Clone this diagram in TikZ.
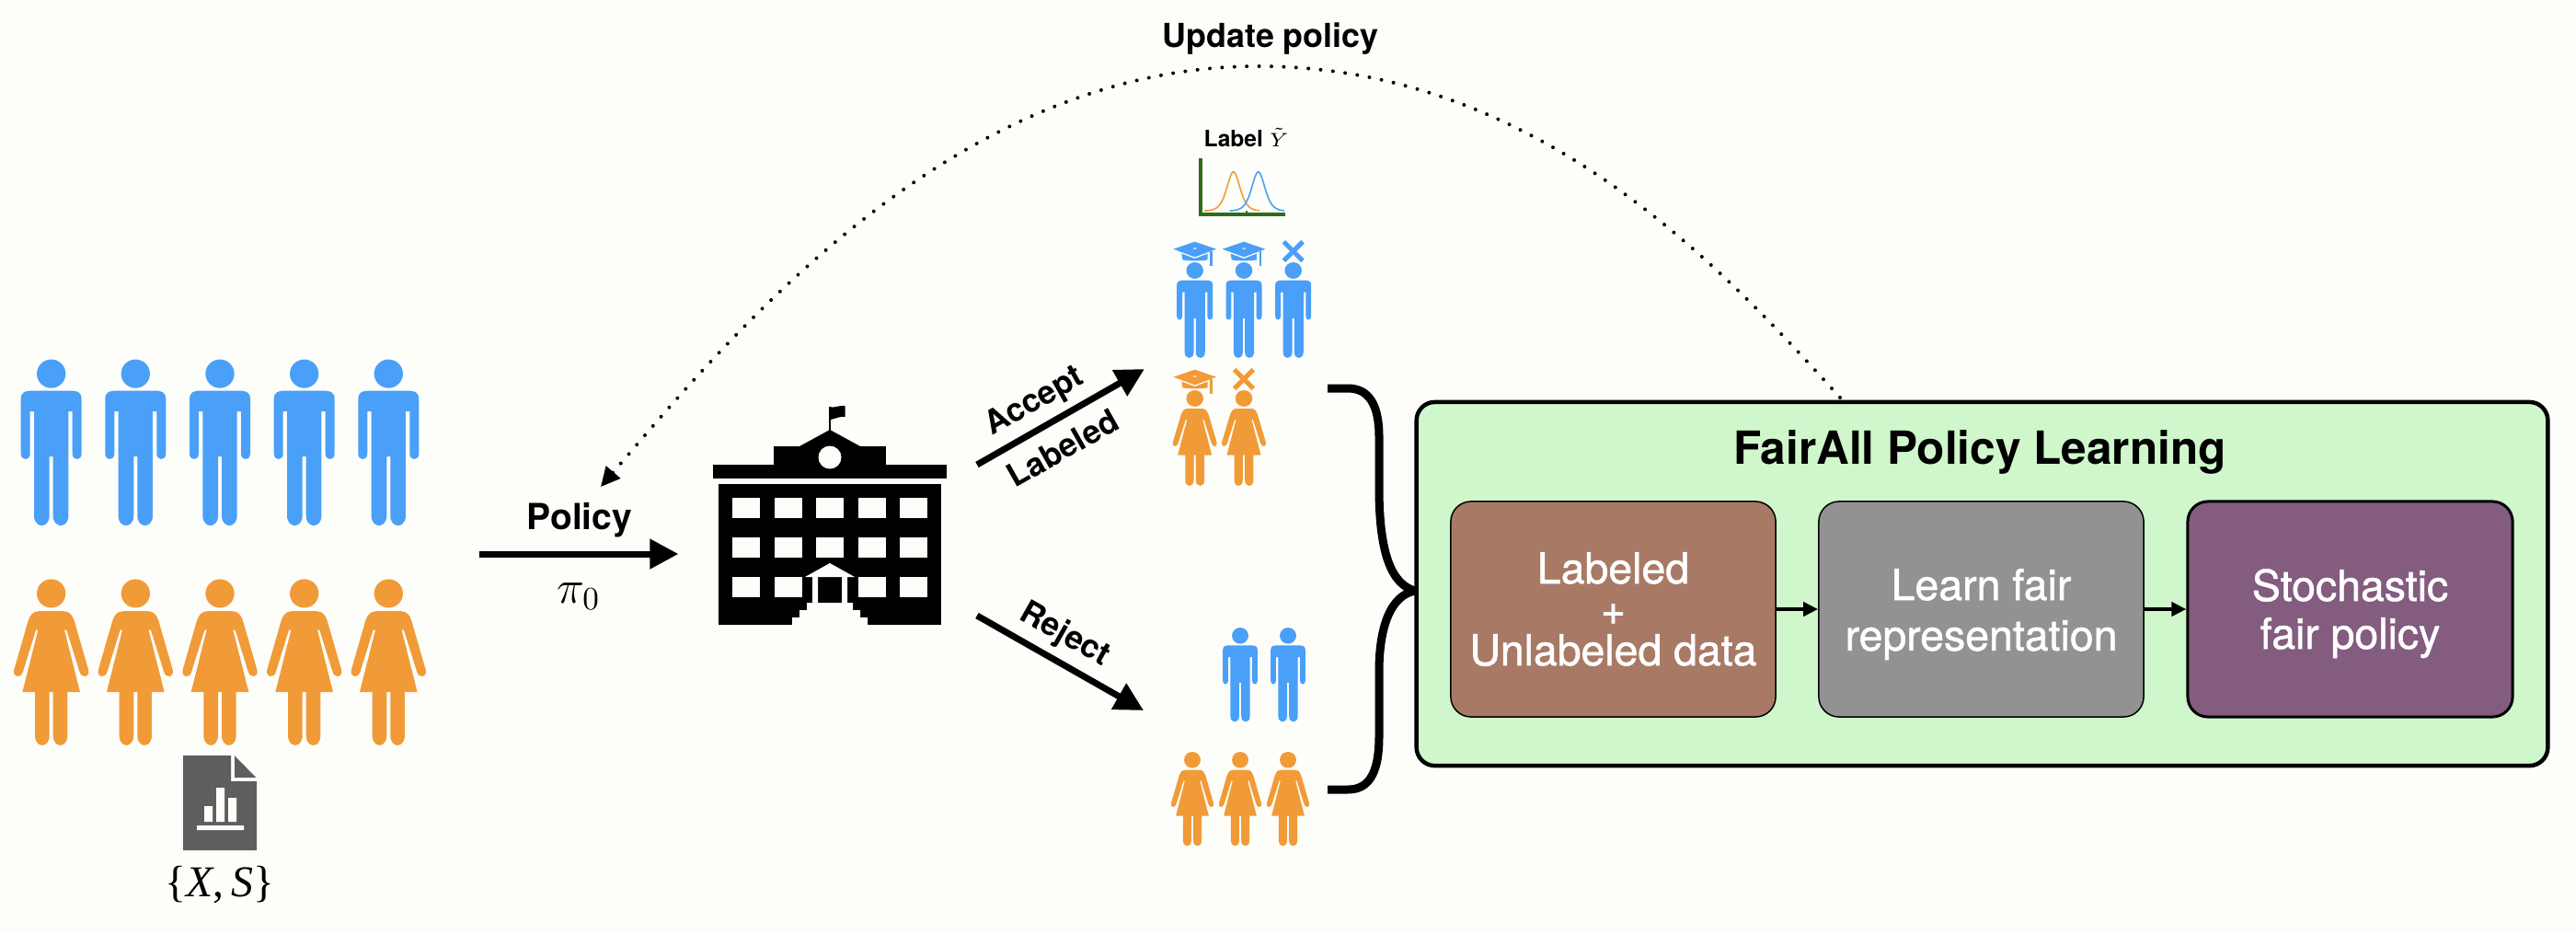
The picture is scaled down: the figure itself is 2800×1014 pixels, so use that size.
\documentclass[tikz,border=0pt]{standalone}
\usepackage[no-math]{fontspec}
\setmainfont{TeX Gyre Heros}
\newfontfamily\timesf{Liberation Serif}
\newfontfamily\boxf{TeX Gyre Heros}[FakeBold=1.2]
\usetikzlibrary{arrows.meta}
\definecolor{bgcol}{HTML}{FDFEFA}
\definecolor{manblue}{HTML}{4A9FF9}
\definecolor{womanorange}{HTML}{F19B38}
\definecolor{docgray}{HTML}{5E5E5E}
\definecolor{axisgreen}{HTML}{2E6B1A}
\definecolor{fairgreen}{HTML}{CFF7CB}
\definecolor{boxbrown}{HTML}{A87A66}
\definecolor{boxgray}{HTML}{929292}
\definecolor{boxpurple}{HTML}{835C7F}
\tikzset{
  man/.pic={
    \fill[manblue] (0,38) ellipse [x radius=47,y radius=38];
    \fill[manblue] (-99,105) .. controls (-99,90) and (-90,83) .. (-60,83) -- (60,83)
      .. controls (90,83) and (99,90) .. (99,105) -- (99,250)
      .. controls (99,270) and (69,270) .. (69,250) -- (69,138) -- (56,138) -- (56,415)
      .. controls (56,450) and (6,450) .. (6,415) -- (6,258) -- (-6,258) -- (-6,415)
      .. controls (-6,450) and (-56,450) .. (-56,415) -- (-56,138) -- (-69,138) -- (-69,250)
      .. controls (-69,270) and (-99,270) .. (-99,250) -- cycle;
  },
  woman/.pic={
    \fill[womanorange] (0,38) ellipse [x radius=47,y radius=38];
    \fill[womanorange] (-40,85) -- (40,85) .. controls (60,85) and (70,97) .. (75,110)
      -- (121,240) .. controls (128,262) and (98,265) .. (92,245)
      -- (50,135) -- (43,135) -- (94,300) -- (53,300) -- (53,415)
      .. controls (53,450) and (6,450) .. (6,415) -- (6,300) -- (-6,300) -- (-6,415)
      .. controls (-6,450) and (-53,450) .. (-53,415) -- (-53,300) -- (-94,300)
      -- (-43,135) -- (-50,135) -- (-92,245) .. controls (-98,265) and (-128,262) .. (-121,240)
      -- (-75,110) .. controls (-70,97) and (-60,85) .. (-40,85) -- cycle;
  },
  gradcap/.pic={
    \fill[pic actions] (-70,-43) -- (0,-67) -- (70,-43) -- (0,-17) -- cycle;
    \fill[pic actions] (-43,-28) -- (0,-12) -- (42,-28) -- (42,-8) .. controls (20,-4) and (-20,-4) .. (-40,-8) -- cycle;
    \fill[pic actions] (50,-37) rectangle (57,11);
    \fill[bgcol] (0,-45) ellipse [x radius=6,y radius=2];
  },
  crossmark/.pic={
    \draw[pic actions,line width=0.05cm] (-31,-67) -- (31,-5) (-31,-5) -- (31,-67);
  },
  bigfig/.style={xscale=.3333,yscale=.409},
  smallfig/.style={xscale=.197,yscale=.2356},
  rejfig/.style={xscale=.19,yscale=.232},
  capfig/.style={xscale=.3333,yscale=.3333},
  thickarrow/.style={line width=0.07cm,-{Triangle[length=0.31cm,width=0.31cm]}},
  smallarrow/.style={line width=0.04cm,-{Triangle[length=0.16cm,width=0.15cm]}},
  sideword/.style={font=\fontsize{10}{12}\selectfont\bfseries,inner sep=0pt},
  flowbox/.style={rounded corners=0.22cm,minimum width=3.53cm,minimum height=2.34cm,
    text=white,align=center,inner sep=0pt,draw=black},
  density/.style={line width=0.016cm,samples=50,smooth},
}
\begin{document}
\begin{tikzpicture}[x=0.01cm,y=-0.01cm]
\useasboundingbox (0,0) rectangle (2800,1014);
\fill[bgcol] (0,0) rectangle (2800,1014);

% population
\foreach \px in {55.7,147.3,239,330.7,422.3}{
  \pic[bigfig] at (\px,390.6) {man};
  \pic[bigfig] at (\px,629.4) {woman};
}
% document icon
\fill[docgray] (199,821.2) -- (251,821.2) -- (251,849) -- (279,849) -- (279,924) -- (199,924) -- cycle;
\fill[docgray] (255,821.2) -- (278.3,845) -- (255,845) -- cycle;
\fill[bgcol] (222,876) rectangle (231,893) (235,856) rectangle (244,893) (248,867) rectangle (257,893) (214,897) rectangle (265,902);
\node[inner sep=0pt,font=\timesf\fontsize{13.6}{15}\selectfont] (features) at (239,962) {\{\textit{X},\,\textit{S}\}};

% policy arrow
\coordinate (policystart) at (521,602);
\coordinate (policyend) at (737.5,602);
\draw[thickarrow] (policystart) -- (policyend);
\node[font=\fontsize{11.1}{13}\selectfont\bfseries,inner sep=0pt] (policylabel) at (630,565) {Policy};
\node[font=\fontsize{14.5}{16}\selectfont,inner sep=0pt] (pilabel) at (629,648) {$\pi_0$};

% school
\fill[black] (775,505) rectangle (1029,520);
\fill[black] (841,485) rectangle (963,505);
\fill[black] (869,485) -- (902,467) -- (935,485) -- cycle;
\fill[black] (900.7,442) rectangle (903.3,468);
\fill[black] (901,442) .. controls (907,444) and (912,440) .. (918.6,441) -- (918.6,453) .. controls (913,452) and (908,455) .. (903,456) -- cycle;
\fill[black] (781,526) rectangle (1023,679);
\fill[bgcol] (902,497) circle (12.5);
\foreach \wx/\wy in {796/541,842/541,887/541,933/541,978/541,796/584,842/584,887/584,933/584,978/584,796/627,842/627,933/627,978/627}{
  \fill[bgcol] (\wx,\wy) rectangle ++(29.5,22);
}
\fill[bgcol] (875,627) -- (902,612) -- (929,627) -- cycle;
\fill[bgcol] (883,627) rectangle (889,656) (915,627) rectangle (921,656);
\fill[bgcol] (877,655) -- (927,655) -- (927,663) -- (935,663) -- (935,671) -- (943,671) -- (943,680) -- (861,680) -- (861,671) -- (869,671) -- (869,663) -- (877,663) -- cycle;

% accept / reject arrows
\coordinate (acceptstart) at (1062,505);
\coordinate (acceptend) at (1244,401);
\coordinate (rejectstart) at (1062,669);
\coordinate (rejectend) at (1243,772);
\draw[thickarrow] (acceptstart) -- (acceptend);
\draw[thickarrow] (rejectstart) -- (rejectend);
\node[sideword,rotate=29.5] (acceptlabel) at (1125,437) {Accept};
\node[sideword,rotate=29.5] (labeledlabel) at (1155,487) {Labeled};
\node[sideword,rotate=-29.5] (rejectlabel) at (1157,690) {Reject};

% label plot
\node[font=\fontsize{7}{8}\selectfont\bfseries,inner sep=0pt,anchor=base west] (ylabel) at (1308,159) {Label {\fontsize{6.3}{8}\selectfont$\tilde{Y}$}};
\draw[womanorange,density,domain=1309.3:1369] plot (\x,{229.3-42.6/(cosh((\x-1340.7)/9.5))^2});
\draw[manblue,density,domain=1336.7:1396] plot (\x,{229.3-42.6/(cosh((\x-1367.7)/9.5))^2});
\draw[axisgreen,line width=0.033cm] (1305,172) -- (1305,233) -- (1397,233);
\draw[axisgreen,line width=0.012cm] (1355,229) -- (1355,233);

% accepted
\pic[smallfig] at (1298.7,285) {man};
\pic[smallfig] at (1352,285) {man};
\pic[smallfig] at (1405.7,285) {man};
\pic[capfig,fill=manblue] at (1298.7,285) {gradcap};
\pic[capfig,fill=manblue] at (1352,285) {gradcap};
\pic[capfig,draw=manblue] at (1405.7,285) {crossmark};
\pic[smallfig] at (1298.7,424) {woman};
\pic[smallfig] at (1352,424) {woman};
\pic[capfig,fill=womanorange] at (1298.7,424) {gradcap};
\pic[capfig,draw=womanorange] at (1352,424) {crossmark};

% rejected
\pic[rejfig] at (1348,682) {man};
\pic[rejfig] at (1400,682) {man};
\pic[rejfig] at (1296,817) {woman};
\pic[rejfig] at (1348,817) {woman};
\pic[rejfig] at (1400,817) {woman};

% brace
\draw[line width=0.09cm] (1443,422) -- (1465,422) .. controls (1488,422) and (1499,440) .. (1499,475) -- (1499,530)
  .. controls (1499,600) and (1512,635) .. (1538,642) .. controls (1512,647) and (1499,680) .. (1499,730) -- (1499,800)
  .. controls (1499,845) and (1485,858) .. (1465,858) -- (1443,858);

% FairAll box
\node[draw=black,line width=0.045cm,fill=fairgreen,rounded corners=0.2cm,minimum width=12.29cm,minimum height=3.95cm,inner sep=0pt] (fairbox) at (2154.5,634.5) {};
\node[font=\fontsize{14.1}{16}\selectfont\bfseries,inner sep=0pt] (fairtitle) at (2152,491) {FairAll Policy Learning};
\node[flowbox,fill=boxbrown,line width=0.015cm,font=\boxf\fontsize{13.2}{12.66}\selectfont] (b1) at (1753.5,662) {Labeled\\+\\Unlabeled data};
\node[flowbox,fill=boxgray,line width=0.015cm,font=\boxf\fontsize{13.2}{15.6}\selectfont] (b2) at (2153.5,662) {\rule{0pt}{.97em}Learn fair\\representation};
\node[flowbox,fill=boxpurple,line width=0.03cm,font=\boxf\fontsize{13.2}{14.8}\selectfont] (b3) at (2554.5,662) {\rule{0pt}{.95em}Stochastic\\fair policy};
\draw[smallarrow] (b1) -- (b2);
\draw[smallarrow] (b2) -- (b3);

% update loop
\coordinate (loopstart) at (2000,432);
\coordinate (looppeak) at (1367,72);
\coordinate (loopend) at (653,529);
\draw[dash pattern=on 0pt off 0.134cm,line cap=round,line width=0.04cm,-{Triangle[length=0.21cm,width=0.2cm]}]
  (loopstart) .. controls (1866,284) and (1667,72) .. (looppeak)
  .. controls (1037,72) and (796,362) .. (loopend);
\node[font=\fontsize{10.2}{12}\selectfont\bfseries,inner sep=0pt] (updatelabel) at (1381,42) {Update policy};
\end{tikzpicture}
\end{document}
